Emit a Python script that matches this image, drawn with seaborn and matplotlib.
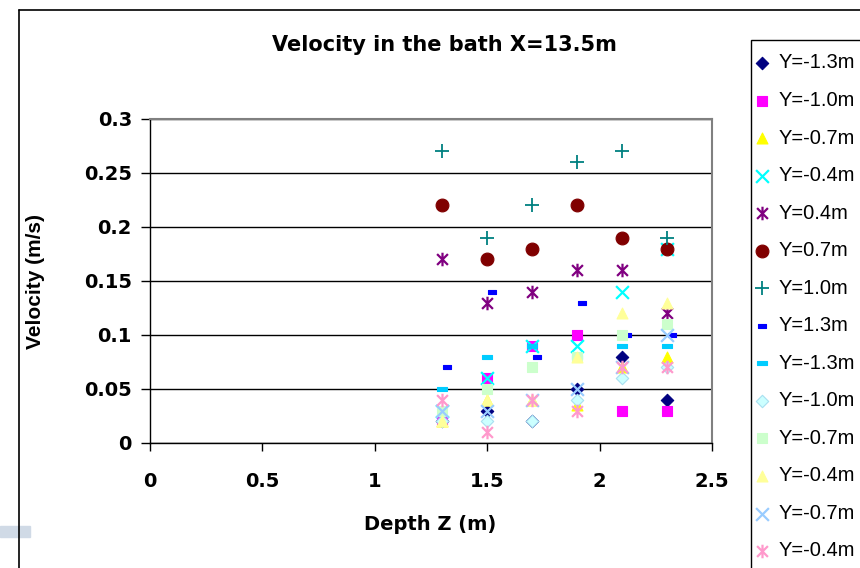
import matplotlib
matplotlib.use('Agg')
import matplotlib.pyplot as plt
import seaborn as sns
import numpy as np
from matplotlib.path import Path
from matplotlib.lines import Line2D
from matplotlib.patches import Rectangle

depth = [1.3, 1.5, 1.7, 1.9, 2.1, 2.3]
depth_shift = [1.32, 1.52, 1.72, 1.92, 2.12, 2.32]

labels = ['Y=-1.3m', 'Y=-1.0m', 'Y=-0.7m', 'Y=-0.4m', 'Y=0.4m', 'Y=0.7m', 'Y=1.0m',
          'Y=1.3m', 'Y=-1.3m', 'Y=-1.0m', 'Y=-0.7m', 'Y=-0.4m', 'Y=-0.7m', 'Y=-0.4m']

v_m13 = [0.02, 0.03, 0.02, 0.05, 0.08, 0.04]
v_m10 = [0.02, 0.06, 0.09, 0.10, 0.03, 0.03]
v_m07 = [0.02, 0.04, 0.04, 0.035, 0.07, 0.08]
v_m04 = [0.03, 0.06, 0.09, 0.09, 0.14, 0.18]
v_p04 = [0.17, 0.13, 0.14, 0.16, 0.16, 0.12]
v_p07 = [0.22, 0.17, 0.18, 0.22, 0.19, 0.18]
v_p10 = [0.27, 0.19, 0.22, 0.26, 0.27, 0.19]
v_p13 = [0.07, 0.14, 0.08, 0.13, 0.10, 0.10]
v2_m13 = [0.05, 0.08, 0.09, 0.08, 0.09, 0.09]
v2_m10 = [0.02, 0.02, 0.02, 0.04, 0.06, 0.07]
v2_m07 = [0.03, 0.05, 0.07, 0.08, 0.10, 0.11]
v2_m04 = [0.02, 0.04, 0.04, 0.08, 0.12, 0.13]
v3_m07 = [0.03, 0.03, 0.04, 0.05, 0.07, 0.10]
v3_m04 = [0.04, 0.01, 0.04, 0.03, 0.07, 0.07]

values = [v_m13, v_m10, v_m07, v_m04, v_p04, v_p07, v_p10,
          v_p13, v2_m13, v2_m10, v2_m07, v2_m04, v3_m07, v3_m04]

# excel style markers
star = Path([(0, -1), (0, 1), (-0.8, -0.8), (0.8, 0.8), (-0.8, 0.8), (0.8, -0.8)],
            [Path.MOVETO, Path.LINETO, Path.MOVETO, Path.LINETO, Path.MOVETO, Path.LINETO])
small_bar = Path([(-0.8, -0.5), (0.8, -0.5), (0.8, 0.5), (-0.8, 0.5), (-0.8, -0.5)], closed=True)
wide_bar = Path([(-1.4, -0.5), (1.4, -0.5), (1.4, 0.5), (-1.4, 0.5), (-1.4, -0.5)], closed=True)

styles = [
    dict(marker='D', color='#000080', s=40),
    dict(marker='s', color='#FF00FF', s=62),
    dict(marker='^', color='#FFFF00', s=62),
    dict(marker='x', color='#00FFFF', s=85, lw=1.6),
    dict(marker=star, color='#800080', s=95, lw=1.6),
    dict(marker='o', color='#800000', s=85),
    dict(marker='+', color='#008080', s=90, lw=1.3),
    dict(marker=small_bar, color='#0000FF', s=32),
    dict(marker=wide_bar, color='#00CCFF', s=62),
    dict(marker='D', color='#CCFFFF', s=40, ec='#A8E0F0'),
    dict(marker='s', color='#CCFFCC', s=62),
    dict(marker='^', color='#FFFF99', s=62),
    dict(marker='x', color='#99CCFF', s=85, lw=1.6),
    dict(marker=star, color='#FF99CC', s=95, lw=1.6),
]

sns.set_theme(style='white')
plt.rcParams['font.family'] = ['Liberation Sans', 'DejaVu Sans']
plt.rcParams['text.color'] = 'black'
plt.rcParams['axes.labelcolor'] = 'black'
plt.rcParams['xtick.color'] = 'black'
plt.rcParams['ytick.color'] = 'black'

fig = plt.figure(figsize=(8.6, 5.68), dpi=100)
ax = fig.add_axes([150/860, 1-443/568, 562/860, 324/568])

for i, (lab, vals, st) in enumerate(zip(labels, values, styles)):
    xs = depth_shift if i == 7 else depth
    lw = st.get('lw', 0.8)
    sns.scatterplot(x=xs, y=vals, ax=ax, marker=st['marker'], color=st['color'],
                    edgecolor=st.get('ec', st['color']), s=st['s'], linewidth=lw,
                    label=lab, zorder=3+i)
if ax.get_legend() is not None:
    ax.get_legend().remove()

ax.set_xlim(0, 2.5)
ax.set_ylim(0, 0.3)
ax.set_xticks(np.arange(0, 2.51, 0.5))
ax.set_yticks(np.arange(0, 0.301, 0.05))
ax.set_xticklabels(['0', '0.5', '1', '1.5', '2', '2.5'])
ax.set_yticklabels(['0', '0.05', '0.1', '0.15', '0.2', '0.25', '0.3'])
for t in ax.get_xticklabels() + ax.get_yticklabels():
    t.set_family('DejaVu Sans')
    t.set_fontweight('bold')
    t.set_fontsize(14)
ax.tick_params(axis='x', length=6, width=1, color='black', direction='out', bottom=True, pad=15)
ax.tick_params(axis='y', length=6.5, width=1, color='black', direction='out', left=True, pad=6.5)
ax.yaxis.grid(True, color='black', linewidth=1)
ax.set_axisbelow(True)
for side in ['top', 'right']:
    ax.spines[side].set_color('#808080')
    ax.spines[side].set_linewidth(1.5)
for side in ['left', 'bottom']:
    ax.spines[side].set_color('black')
    ax.spines[side].set_linewidth(1)

ax.set_xlabel('Depth Z (m)', fontsize=14, fontweight='bold', family='DejaVu Sans')
ax.xaxis.set_label_coords(0.498, -0.222)
ax.set_ylabel('Velocity (m/s)', fontsize=15, fontweight='bold')
ax.yaxis.set_label_coords(-0.187, 0.497)
fig.text(444/860, 1-45/568, 'Velocity in the bath X=13.5m', ha='center', va='center',
         fontsize=15, fontweight='bold', family='DejaVu Sans')

# legend frame runs off the bottom of the picture
fig.patches.append(Rectangle((751/860, -0.05), 0.2, 1.05-40/568, transform=fig.transFigure,
                             facecolor='white', edgecolor='black', lw=1, zorder=1))
handles, leg_labels = ax.get_legend_handles_labels()
leg = fig.legend(handles, leg_labels, loc='upper left', bbox_to_anchor=(755/860, 1-53.5/568),
                 frameon=False, fontsize=14.5, labelspacing=0.92, handletextpad=0.45,
                 handlelength=0.7, borderpad=0, borderaxespad=0)
leg.set_zorder(5)

# chart area border and slide background strip
fig.patches.append(Rectangle((0, 1-537/568), 30/860, 11/568, transform=fig.transFigure,
                             color='#D0DAE6', zorder=0))
fig.add_artist(Line2D([19/860, 19/860], [0, 1-10/568], color='black', lw=1.2))
fig.add_artist(Line2D([19/860, 1], [1-10/568, 1-10/568], color='black', lw=1.2))

fig.savefig('out.png', dpi=100)
